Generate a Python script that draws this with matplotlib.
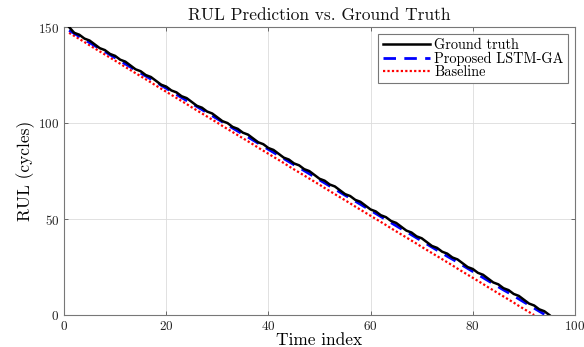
import numpy as np
import matplotlib
matplotlib.use("Agg")
import matplotlib.pyplot as plt

# RUL values per time index
ground_truth = [150, 147, 146, 144, 143, 141, 139, 138, 136, 135, 133, 132, 130, 128, 127, 125,
                124, 122, 120, 119, 117, 116, 114, 113, 111, 109, 108, 106, 105, 103, 101, 100,
                98, 97, 95, 94, 92, 90, 89, 87, 86, 84, 82, 81, 79, 78, 76, 75, 73, 71, 70, 68,
                67, 65, 63, 62, 60, 59, 57, 55, 54, 52, 51, 49, 48, 46, 44, 43, 41, 40, 38, 36,
                35, 33, 32, 30, 29, 27, 25, 24, 22, 21, 19, 17, 16, 14, 13, 11, 10, 8, 6, 5, 3, 2, 0]

proposed = [148.3, 146.7, 145.1, 143.5, 141.9, 140.3, 138.8, 137.2, 135.6, 134.0, 132.4, 130.8,
            129.2, 127.6, 126.0, 124.5, 122.9, 121.3, 119.7, 118.1, 116.5, 114.9, 113.3, 111.7,
            110.2, 108.6, 107.0, 105.4, 103.8, 102.2, 100.6, 99.0, 97.4, 95.8, 94.2, 92.7, 91.1,
            89.5, 87.9, 86.3, 84.7, 83.1, 81.5, 79.9, 78.3, 76.8, 75.2, 73.6, 72.0, 70.4, 68.8,
            67.2, 65.6, 64.0, 62.4, 60.9, 59.3, 57.7, 56.1, 54.5, 52.9, 51.3, 49.7, 48.1, 46.5,
            44.9, 43.4, 41.8, 40.2, 38.6, 37.0, 35.4, 33.8, 32.2, 30.6, 29.1, 27.5, 25.9, 24.3,
            22.7, 21.1, 19.5, 17.9, 16.3, 14.7, 13.1, 11.6, 10.0, 8.4, 6.8, 5.2, 3.6, 2.0, 0.4]

baseline = [147.0, 145.4, 143.8, 142.2, 140.5, 138.9, 137.3, 135.7, 134.1, 132.5, 130.9, 129.2,
            127.6, 126.0, 124.4, 122.8, 121.2, 119.5, 117.9, 116.3, 114.7, 113.1, 111.5, 109.9,
            108.2, 106.6, 105.0, 103.4, 101.8, 100.2, 98.5, 96.9, 95.3, 93.7, 92.1, 90.5, 88.9,
            87.2, 85.6, 84.0, 82.4, 80.8, 79.2, 77.5, 75.9, 74.3, 72.7, 71.1, 69.5, 67.9, 66.2,
            64.6, 63.0, 61.4, 59.8, 58.2, 56.5, 54.9, 53.3, 51.7, 50.1, 48.5, 46.9, 45.2, 43.6,
            42.0, 40.4, 38.8, 37.2, 35.5, 33.9, 32.3, 30.7, 29.1, 27.5, 25.9, 24.2, 22.6, 21.0,
            19.4, 17.8, 16.2, 14.5, 12.9, 11.3, 9.7, 8.1, 6.5, 4.8, 3.2, 1.6, 0.0]

plt.rcParams["font.family"] = "cmr10"
plt.rcParams["mathtext.fontset"] = "cm"
plt.rcParams["axes.formatter.use_mathtext"] = True

fig = plt.figure(figsize=(5.84, 3.47), dpi=100)
ax = fig.add_axes([0.1096, 0.092, 0.8750, 0.830])

t_gt = np.arange(1, len(ground_truth) + 1)
t_pr = np.arange(1, len(proposed) + 1)
t_bl = np.arange(1, len(baseline) + 1)

h_bl, = ax.plot(t_bl, baseline, color="red", linestyle=(0, (1, 1)), linewidth=1.6,
                label="Baseline", zorder=2)
h_pr, = ax.plot(t_pr, proposed, color="blue", linestyle=(0, (4.5, 3)), linewidth=2.0,
                label="Proposed LSTM-GA", zorder=3)
h_gt, = ax.plot(t_gt, ground_truth, color="black", linewidth=1.8,
                label="Ground truth", zorder=4)

ax.set_xlim(0, 100)
ax.set_ylim(0, 150)
ax.set_xticks([0, 20, 40, 60, 80, 100])
ax.set_yticks([0, 50, 100, 150])
ax.grid(True, color="#dcdcdc", linewidth=0.6)
ax.set_axisbelow(True)
ax.tick_params(direction="in", top=True, right=True, length=3, width=0.6,
               color="#555555", labelsize=9.5, labelcolor="#222222")
for s in ax.spines.values():
    s.set_color("#777777")
    s.set_linewidth(0.8)

ax.set_title("RUL Prediction vs. Ground Truth", fontsize=12.5, pad=5, color="#111111")
ax.set_xlabel("Time index", fontsize=12.5, labelpad=0)
ax.set_ylabel("RUL (cycles)", fontsize=12.5, labelpad=2)

leg = ax.legend(handles=[h_gt, h_pr, h_bl], loc="upper right", fontsize=10.3,
                fancybox=False, edgecolor="#777777", framealpha=1,
                handlelength=3.3, labelspacing=-0.05, borderpad=0.3,
                handletextpad=0.3, borderaxespad=0.5)
leg.get_frame().set_linewidth(0.8)

fig.savefig("out.png", dpi=100)
